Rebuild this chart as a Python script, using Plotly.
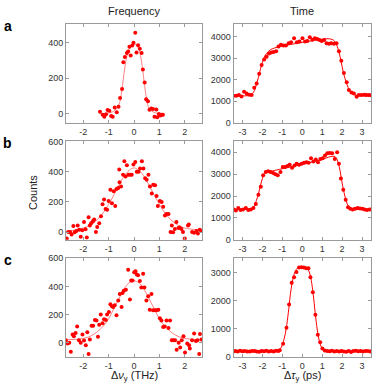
import plotly.graph_objects as go

# ---------------- data ----------------
# Panel a, frequency
fa_x = [-1.34,-1.23,-1.17,-1.10,-1.04,-0.97,-0.90,-0.84,-0.76,-0.68,-0.61,-0.55,-0.47,-0.42,-0.36,-0.28,-0.23,-0.18,-0.13,-0.07,-0.02,0.05,0.10,0.16,0.23,0.30,0.35,0.42,0.48,0.55,0.61,0.68,0.75,0.81,0.88,0.92,0.98,1.04,1.10,1.14]
fa_y = [13,-5,-15,-2,22,18,-11,-16,36,9,40,89,140,289,318,340,349,376,327,382,398,454,344,384,364,340,249,176,82,71,24,31,27,-15,25,-18,0,-9,-5,-5]
fa_fit_x = [-1.34,-1.0,-0.8,-0.6,-0.5,-0.4,-0.3,-0.2,-0.1,0.0,0.1,0.2,0.3,0.4,0.5,0.6,0.8,1.0,1.14]
fa_fit_y = [0,5,15,50,110,220,310,360,382,390,385,360,290,180,80,30,8,2,0]

# Panel a, time
ta_x = [-3.44,-3.31,-3.18,-3.05,-2.92,-2.79,-2.66,-2.54,-2.41,-2.29,-2.16,-2.04,-1.91,-1.79,-1.67,-1.56,-1.44,-1.31,-1.19,-1.07,-0.94,-0.82,-0.68,-0.56,-0.41,-0.27,-0.14,0.01,0.14,0.26,0.38,0.51,0.63,0.75,0.86,0.98,1.10,1.22,1.34,1.45,1.59,1.72,1.84,1.96,2.09,2.23,2.34,2.47,2.59,2.73,2.84,2.97,3.11,3.22,3.35,3.47]
ta_y = [1253,1253,1285,1225,1435,1360,1300,1285,1630,1825,2275,2680,2935,3055,3205,3250,3280,3310,3535,3610,3580,3580,3685,3730,3910,3730,3760,3910,3760,3790,3955,3850,3910,3880,3835,3790,3835,3685,3655,3685,3655,3685,3310,2875,2305,1885,1525,1405,1360,1210,1285,1285,1300,1285,1285,1280]
ta_fit_x = [-3.5,-2.8,-2.6,-2.5,-2.4,-2.3,-2.2,-2.1,-2.0,-1.9,-1.8,-1.6,-1.4,-1.0,-0.5,0.0,0.5,1.0,1.3,1.5,1.6,1.7,1.8,1.9,2.0,2.1,2.2,2.3,2.4,2.6,2.8,3.5]
ta_fit_y = [1250,1255,1290,1350,1500,1780,2100,2480,2800,3050,3200,3380,3460,3560,3640,3720,3800,3870,3890,3860,3800,3650,3420,3050,2600,2200,1900,1640,1470,1310,1265,1250]

# Panel b, frequency
fb_x = [-2.65,-2.59,-2.52,-2.46,-2.39,-2.34,-2.27,-2.22,-2.16,-2.10,-2.04,-1.97,-1.91,-1.86,-1.79,-1.74,-1.69,-1.62,-1.57,-1.50,-1.45,-1.37,-1.30,-1.24,-1.18,-1.12,-1.06,-1.00,-0.93,-0.87,-0.80,-0.74,-0.69,-0.62,-0.58,-0.57,-0.51,-0.43,-0.38,-0.33,-0.28,-0.22,-0.15,-0.09,-0.02,0.05,0.11,0.18,0.24,0.31,0.37,0.44,0.50,0.57,0.63,0.70,0.76,0.83,0.89,0.94,1.02,1.09,1.15,1.22,1.28,1.36,1.44,1.49,1.54,1.61,1.67,1.75,1.80,1.87,1.93,2.00,2.13,2.16,2.29,2.37,2.46,2.52,2.59,2.65]
fb_y = [-41,2,2,-15,41,0,9,45,17,-30,13,67,19,-34,99,45,60,73,84,2,34,60,105,185,217,153,148,207,280,192,271,174,286,293,415,331,303,379,469,368,443,379,379,379,447,464,400,400,421,469,421,357,346,379,303,256,314,310,239,174,207,200,168,110,120,120,2,45,0,22,67,28,32,22,2,-41,45,52,2,-4,9,-9,17,9]
fb_fit_x = [-2.68,-2.4,-2.0,-1.75,-1.5,-1.25,-1.0,-0.75,-0.5,-0.25,0.0,0.25,0.5,0.75,1.0,1.25,1.5,1.75,2.0,2.4,2.68]
fb_fit_y = [5,12,28,45,75,120,185,260,340,400,425,400,340,260,185,120,75,45,28,18,15]

# Panel b, time
tb_x = [-3.43,-3.33,-3.21,-3.10,-2.97,-2.83,-2.71,-2.58,-2.45,-2.33,-2.20,-2.08,-1.96,-1.83,-1.71,-1.59,-1.46,-1.35,-1.23,-1.09,-0.98,-0.86,-0.74,-0.63,-0.51,-0.39,-0.28,-0.16,-0.03,0.09,0.21,0.32,0.44,0.56,0.68,0.79,0.91,1.03,1.14,1.26,1.38,1.50,1.63,1.75,1.84,1.94,2.06,2.18,2.30,2.41,2.53,2.65,2.78,2.90,3.02,3.13,3.25,3.38,3.50]
tb_y = [1390,1345,1460,1360,1390,1460,1360,1390,1460,1640,2060,2430,2955,3100,3135,3100,3060,3000,2955,3100,3330,3330,3370,3430,3300,3400,3480,3430,3480,3520,3550,3520,3730,3580,3670,3550,3700,3730,3850,3955,3970,3955,3700,4000,3480,2800,2285,1835,1490,1420,1390,1420,1460,1435,1420,1390,1360,1390,1390]
tb_fit_x = [-3.5,-2.6,-2.5,-2.4,-2.3,-2.2,-2.1,-2.0,-1.9,-1.8,-1.7,-1.5,-1.0,0.0,1.0,1.4,1.6,1.7,1.8,1.9,2.0,2.1,2.2,2.3,2.4,2.6,3.5]
tb_fit_y = [1400,1405,1440,1560,1800,2100,2470,2800,3000,3080,3110,3150,3250,3450,3680,3800,3820,3750,3530,3150,2600,2150,1800,1560,1450,1405,1400]

# Panel c, frequency
fc_x = [-2.69,-2.62,-2.55,-2.49,-2.42,-2.37,-2.30,-2.24,-2.17,-2.10,-2.03,-1.97,-1.90,-1.84,-1.79,-1.74,-1.67,-1.61,-1.54,-1.48,-1.42,-1.37,-1.31,-1.24,-1.18,-1.11,-1.06,-0.99,-0.93,-0.87,-0.82,-0.76,-0.69,-0.62,-0.56,-0.49,-0.45,-0.40,-0.32,-0.23,-0.16,-0.11,-0.06,0.01,0.06,0.11,0.16,0.23,0.29,0.36,0.41,0.49,0.56,0.62,0.69,0.75,0.83,0.89,0.96,1.02,1.08,1.15,1.21,1.28,1.36,1.42,1.49,1.55,1.62,1.68,1.76,1.82,1.88,1.95,2.01,2.10,2.17,2.20,2.29,2.37,2.44,2.50,2.57,2.60,2.66]
fc_y = [18,-5,0,-65,58,46,69,115,18,0,58,16,-18,74,-81,23,120,120,162,157,42,127,201,139,166,162,201,219,273,259,254,266,196,300,346,254,353,369,376,519,307,443,443,501,508,485,480,439,393,490,393,300,330,235,346,231,231,231,235,173,157,111,115,157,104,157,18,18,18,-51,0,-35,18,46,-69,-5,-18,-42,18,65,12,18,-81,62,23]
fc_fit_x = [-2.68,-2.2,-1.8,-1.5,-1.2,-1.0,-0.8,-0.6,-0.4,-0.2,0.0,0.2,0.4,0.6,0.8,1.0,1.2,1.5,1.8,2.2,2.68]
fc_fit_y = [22,25,40,70,120,170,240,310,380,425,440,425,380,310,240,170,120,70,40,25,22]

# Panel c, time
tc_x = [-3.48,-3.36,-3.24,-3.12,-3.00,-2.88,-2.76,-2.64,-2.52,-2.40,-2.28,-2.16,-2.04,-1.92,-1.80,-1.68,-1.56,-1.44,-1.32,-1.20,-1.13,-0.96,-0.79,-0.66,-0.53,-0.41,-0.29,-0.16,-0.04,0.08,0.19,0.31,0.41,0.53,0.66,0.78,0.90,1.01,1.13,1.25,1.37,1.49,1.61,1.73,1.85,1.97,2.09,2.21,2.33,2.45,2.57,2.69,2.81,2.93,3.05,3.17,3.29,3.41,3.50]
tc_y = [180,200,190,210,195,200,185,190,200,205,190,180,200,195,210,190,200,185,215,200,230,460,1030,1860,2630,2830,3010,3170,3180,3170,3150,3150,2830,2290,1490,780,515,290,220,200,195,210,190,200,185,205,190,180,200,170,200,210,195,200,185,205,200,190,195]
tc_fit_x = [-3.5,-1.3,-1.2,-1.1,-1.0,-0.9,-0.8,-0.7,-0.6,-0.5,-0.4,-0.3,-0.2,0.0,0.2,0.3,0.4,0.5,0.6,0.7,0.8,0.9,1.0,1.1,1.3,3.5]
tc_fit_y = [200,205,215,280,420,660,1020,1560,2200,2650,2950,3100,3180,3200,3180,3100,2900,2500,1900,1250,750,450,290,225,202,200]

freq_ticks = [-2, -1, 0, 1, 2]
time_ticks = [-3, -2, -1, 0, 1, 2, 3]

# ---------------- figure ----------------
W, H = 374, 390
RED = "#ff0000"
FIT_LIGHT = "rgba(255,90,90,0.75)"

fig = go.Figure()

panels = [
    (fa_x, fa_y, fa_fit_x, fa_fit_y, 1, FIT_LIGHT),
    (ta_x, ta_y, ta_fit_x, ta_fit_y, 2, RED),
    (fb_x, fb_y, fb_fit_x, fb_fit_y, 3, FIT_LIGHT),
    (tb_x, tb_y, tb_fit_x, tb_fit_y, 4, RED),
    (fc_x, fc_y, fc_fit_x, fc_fit_y, 5, FIT_LIGHT),
    (tc_x, tc_y, tc_fit_x, tc_fit_y, 6, RED),
]
for x, y, fx, fy, k, fcol in panels:
    xa = "x" if k == 1 else f"x{k}"
    ya = "y" if k == 1 else f"y{k}"
    fig.add_trace(go.Scatter(x=fx, y=fy, mode="lines", line=dict(color=fcol, width=1, shape="spline"),
                             xaxis=xa, yaxis=ya, hoverinfo="skip"))
    fig.add_trace(go.Scatter(x=x, y=y, mode="markers", marker=dict(color=RED, size=4),
                             xaxis=xa, yaxis=ya))

def px_x(a, b):
    return [a / W, b / W]

def px_y(top, bottom):
    return [1 - bottom / H, 1 - top / H]

xdom_l = px_x(66, 202)
xdom_r = px_x(233.5, 371)
rows = [(20, 121), (140, 241), (260, 361)]
yranges_l = [[-50, 500], [-50, 600], [-100, 600]]
yranges_r = [[0, 4550], [0, 4500], [0, 3500]]
ytick_l = [[0, 200, 400], [0, 200, 400, 600], [0, 200, 400, 600]]
ytick_r = [[0, 1000, 2000, 3000, 4000], [0, 1000, 2000, 3000, 4000], [0, 1000, 2000, 3000]]

axis_common = dict(showline=True, linecolor="#9a9a9a", linewidth=1, mirror="ticks",
                   ticks="inside", ticklen=3, tickcolor="#9a9a9a", showgrid=False, zeroline=False,
                   tickfont=dict(family="Liberation Sans, Arial", size=9, color="#333333"))

layout = {}
for r, (top, bot) in enumerate(rows):
    kl = 2 * r + 1
    kr = 2 * r + 2
    nl = "" if kl == 1 else str(kl)
    nr = str(kr)
    layout[f"xaxis{nl}"] = dict(domain=xdom_l, range=[-2.68, 2.68], anchor=f"y{nl}",
                                tickvals=freq_ticks, ticktext=[str(v) for v in freq_ticks], **axis_common)
    layout[f"yaxis{nl}"] = dict(domain=px_y(top, bot), range=yranges_l[r], anchor=f"x{nl}",
                                tickvals=ytick_l[r], **axis_common)
    layout[f"xaxis{nr}"] = dict(domain=xdom_r, range=[-3.45, 3.45], anchor=f"y{nr}",
                                tickvals=time_ticks, ticktext=[str(v) for v in time_ticks], **axis_common)
    layout[f"yaxis{nr}"] = dict(domain=px_y(top, bot), range=yranges_r[r], anchor=f"x{nr}",
                                tickvals=ytick_r[r], **axis_common)

fig.update_layout(**layout)

FONT = "Liberation Sans, Arial"
ann = [
    dict(text="Frequency", x=134 / W, y=1 - 6 / H),
    dict(text="Time", x=302 / W, y=1 - 6 / H),
    dict(text="Δ<i>ν</i><sub>y</sub> (THz)", x=134 / W, y=1 - 381 / H),
    dict(text="Δ<i>τ</i><sub>y</sub> (ps)", x=302 / W, y=1 - 381 / H),
]
annotations = []
for a in ann:
    annotations.append(dict(text=a["text"], x=a["x"], y=a["y"], xref="paper", yref="paper",
                            showarrow=False, xanchor="center", yanchor="middle",
                            font=dict(family=FONT, size=11, color="#222222")))
annotations.append(dict(text="Counts", x=33 / W, y=1 - 193 / H, xref="paper", yref="paper",
                        showarrow=False, textangle=-90, xanchor="center", yanchor="middle",
                        font=dict(family=FONT, size=11, color="#222222")))
for lbl, yy in [("a", 22), ("b", 142), ("c", 262)]:
    annotations.append(dict(text=f"<b>{lbl}</b>", x=7.5 / W, y=1 - yy / H, xref="paper", yref="paper",
                            showarrow=False, xanchor="center", yanchor="middle",
                            font=dict(family=FONT, size=14, color="#000000")))

fig.update_layout(width=W, height=H, margin=dict(l=0, r=0, t=0, b=0),
                  paper_bgcolor="white", plot_bgcolor="white", showlegend=False,
                  annotations=annotations, font=dict(family=FONT))

fig.write_html("out.html", config={"displayModeBar": False},
               post_script="document.body.style.margin='0';document.body.style.padding='0';document.body.style.overflow='hidden';")
